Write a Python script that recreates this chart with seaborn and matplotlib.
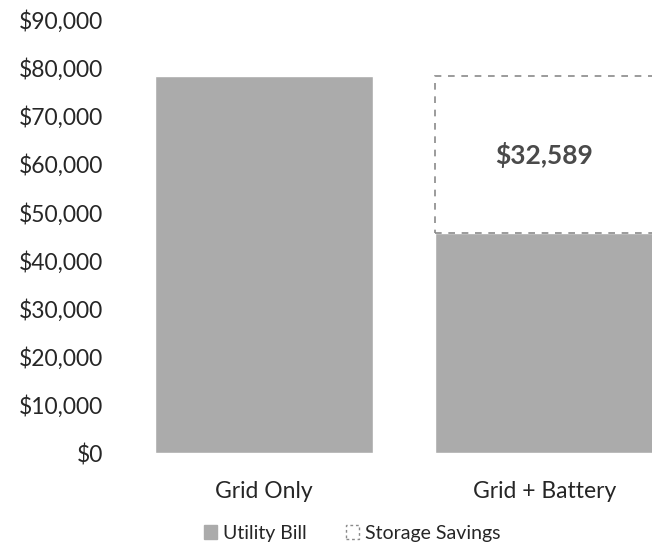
import seaborn as sns
import pandas as pd
import matplotlib.pyplot as plt
from matplotlib.patches import Patch
from matplotlib.ticker import FuncFormatter

scenarios = ["Grid Only", "Grid + Battery"]
utility_bill = [78200, 45611]
storage_savings = [0, 32589]

df = pd.DataFrame({"Scenario": scenarios, "Utility Bill": utility_bill,
                   "Storage Savings": storage_savings})

sns.set_theme(style="white")
plt.rcParams['font.family'] = ['Lato', 'DejaVu Sans']
txt = "#262626"
bar_gray = "#ababab"

fig = plt.figure(figsize=(6.52, 5.48), dpi=100)
ax = fig.add_axes([0.19, 0.173, 0.81, 0.792])

sns.barplot(data=df, x="Scenario", y="Utility Bill", color=bar_gray,
            width=0.78, saturation=1, ax=ax)
n_util = len(ax.patches)
sns.barplot(data=df, x="Scenario", y="Storage Savings", bottom=df["Utility Bill"].values,
            color="white", edgecolor="#8a8a8a", linewidth=1.2, linestyle=(0, (4, 4)),
            width=0.78, saturation=1, ax=ax)
# no outline for empty savings segment
for p in ax.patches[n_util:]:
    if p.get_height() == 0:
        p.set_visible(False)

# savings label
ax.text(1, utility_bill[1] + storage_savings[1] / 2, "${:,}".format(storage_savings[1]),
        ha="center", va="center", fontsize=19, fontweight="bold", color="#4a4a4a")

ax.set_ylim(0, 90000)
ax.set_xlim(-0.5, 1.385)
ax.set_yticks(range(0, 90001, 10000))
ax.yaxis.set_major_formatter(FuncFormatter(lambda v, p: "${:,.0f}".format(v)))
ax.set_xlabel("")
ax.set_ylabel("")
ax.tick_params(axis="y", labelsize=16.5, labelcolor=txt, pad=15, length=0)
ax.tick_params(axis="x", labelsize=16.5, labelcolor=txt, pad=20, length=0)
sns.despine(ax=ax, left=True, bottom=True)

handles = [Patch(facecolor=bar_gray, edgecolor=bar_gray, label="Utility Bill"),
           Patch(facecolor="white", edgecolor="#8a8a8a", linestyle=(0, (2, 2)),
                 label="Storage Savings")]
fig.legend(handles=handles, loc="center", bbox_to_anchor=(0.54, 0.027), ncol=2,
           frameon=False, fontsize=14, handlelength=0.7, handleheight=0.7,
           handletextpad=0.3, columnspacing=2.0, labelcolor=txt)

fig.savefig("out.png", dpi=100)
